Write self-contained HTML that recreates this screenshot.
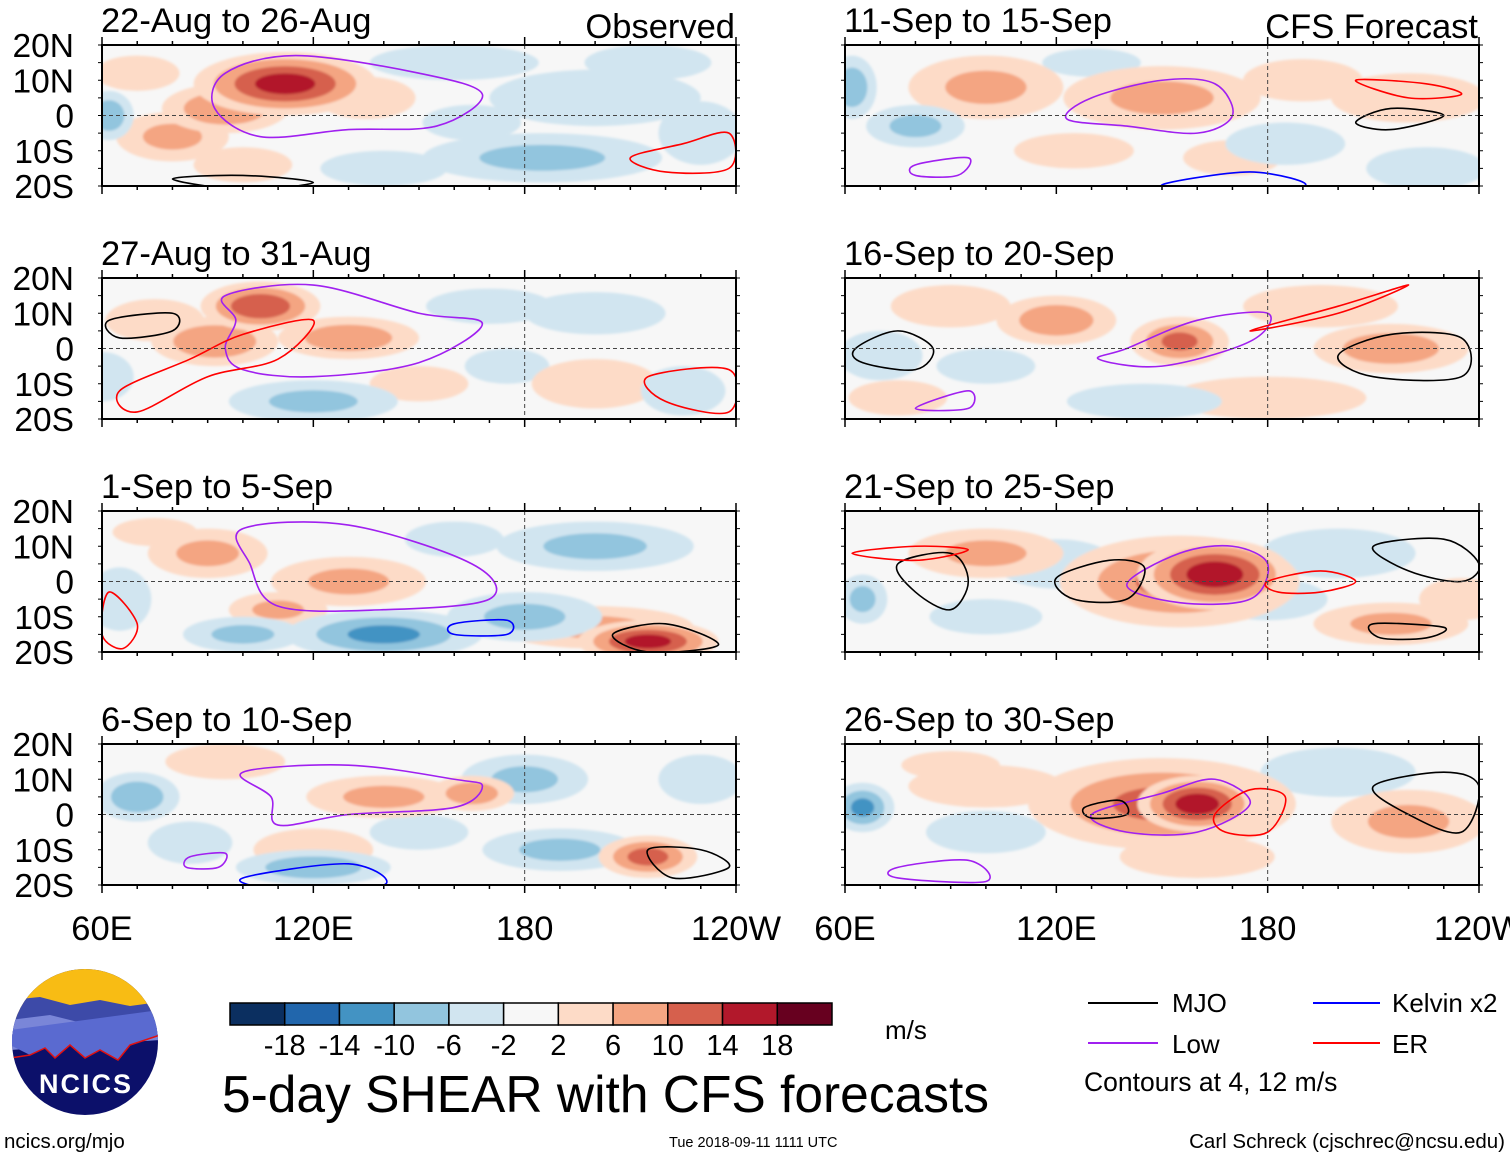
<!DOCTYPE html>
<html><head><meta charset="utf-8"><style>
html,body{margin:0;padding:0;background:#fff}
svg{display:block;font-family:"Liberation Sans",sans-serif}
</style></head><body>
<svg id="fig" width="1510" height="1158" viewBox="0 0 1510 1158" xmlns="http://www.w3.org/2000/svg">
<defs><filter id="soft" x="-10%" y="-10%" width="120%" height="120%"><feGaussianBlur stdDeviation="1.2"/></filter></defs>
<g id="panels"></g>
<g id="bottom">
 <g>
  <clipPath id="lc"><circle cx="85" cy="1042" r="73"/></clipPath>
  <g clip-path="url(#lc)">
   <rect x="10" y="968" width="150" height="150" fill="#0c106a"/>
   <rect x="10" y="968" width="150" height="50" fill="#f8bc14"/>
   <path d="M10 1000 L40 997 L70 1005 L100 1000 L130 1006 L160 1002 L160 1035 L10 1040Z" fill="#3d4aa8"/>
   <path d="M10 1020 L50 1015 L90 1025 L130 1018 L160 1020 L160 1040 L10 1050Z" fill="#7a86d8"/>
   <path d="M10 1045 L30 1055 L45 1048 L55 1058 L70 1045 L85 1058 L100 1050 L118 1060 L130 1045 L160 1035 L160 1010 L10 1030Z" fill="#5a6ad0"/>
   <path d="M10 1058 L30 1055 L45 1048 L55 1058 L70 1045 L85 1058 L100 1050 L118 1060 L130 1045 L160 1035" fill="none" stroke="#e01010" stroke-width="1.5"/>
  </g>
  <text x="86" y="1093" font-size="27" font-weight="bold" fill="#fff" text-anchor="middle" letter-spacing="2">NCICS</text>
 </g>
 <text x="4" y="1148" font-size="20.5">ncics.org/mjo</text>
 <g id="cbar"></g>
 <text x="885" y="1039" font-size="26">m/s</text>
 <text x="222" y="1112" font-size="51.5">5-day SHEAR with CFS forecasts</text>
 <text x="669" y="1147" font-size="14.5">Tue 2018-09-11 1111 UTC</text>
 <text x="1505" y="1148" font-size="20.5" text-anchor="end">Carl Schreck (cjschrec@ncsu.edu)</text>
 <g font-size="26">
  <line x1="1088" y1="1003" x2="1158" y2="1003" stroke="#000" stroke-width="2"/><text x="1172" y="1012">MJO</text>
  <line x1="1088" y1="1043" x2="1158" y2="1043" stroke="#a020f0" stroke-width="2"/><text x="1172" y="1053">Low</text>
  <line x1="1313" y1="1003" x2="1380" y2="1003" stroke="#0000ff" stroke-width="2"/><text x="1392" y="1012">Kelvin x2</text>
  <line x1="1313" y1="1043" x2="1380" y2="1043" stroke="#ff0000" stroke-width="2"/><text x="1392" y="1053">ER</text>
  <text x="1084" y="1091" font-size="26.5">Contours at 4, 12 m/s</text>
 </g>
</g>
</svg>
<script>
const panelTitles=["22-Aug to 26-Aug","27-Aug to 31-Aug","1-Sep to 5-Sep","6-Sep to 10-Sep","11-Sep to 15-Sep","16-Sep to 20-Sep","21-Sep to 25-Sep","26-Sep to 30-Sep"];
const latTicks=[20,10,0,-10,-20];
const latLabels=["20N","10N","0","10S","20S"];
const lonTicks=[60,120,180,240];
const lonLabels=["60E","120E","180","120W"];
const cbarLevels=[-18,-14,-10,-6,-2,2,6,10,14,18];
const cbarColors=["#0b2f60","#2166ac","#4393c3","#92c5de","#d1e5f0","#f7f7f7","#fddbc7","#f4a582","#d6604d","#b2182b","#67001f"];
// blobs: [lon, lat, value m/s, lon-extent, lat-extent]
const blobs0=[[112,9,16,26,9],[95,2,10,18,7],[80,-6,7,16,7],[70,12,5,12,5],[135,5,5,14,6],[100,-14,5,14,5],[62,0,-9,7,7],[185,-12,-7,34,7],[200,5,-5,30,8],[230,-5,-5,12,9],[160,15,-5,24,5],[140,-15,-5,18,5],[165,-2,-4,14,5],[215,15,-4,18,5]];
const blobs1=[[105,12,14,17,7],[92,2,10,18,7],[130,3,9,20,6],[75,8,5,14,6],[200,-10,5,18,7],[150,-10,4,14,5],[120,-15,-7,24,6],[225,-12,-5,12,7],[170,12,-5,18,5],[60,-8,-5,9,7],[200,10,-4,20,6],[175,-5,-4,12,5]];
const blobs2=[[215,-17,16,20,6],[200,-13,7,28,6],[90,8,7,17,7],[130,0,7,22,7],[110,-8,7,14,5],[75,14,4,12,4],[140,-15,-11,28,7],[180,-10,-7,22,7],[100,-15,-7,17,5],[200,10,-7,28,7],[65,-5,-5,9,9],[160,12,-4,14,5]];
const blobs3=[[95,15,5,17,5],[140,5,7,22,6],[165,6,9,12,5],[215,-12,12,14,6],[120,-10,5,17,6],[70,5,-9,12,7],[120,-15,-9,22,5],[180,10,-7,18,7],[190,-10,-7,22,6],[230,10,-5,12,7],[85,-8,-5,12,6],[150,-5,-4,14,5]];
const blobs4=[[100,8,7,22,9],[150,5,7,28,9],[220,5,5,22,7],[190,10,5,17,6],[125,-10,5,17,5],[170,-12,4,14,5],[62,8,-9,7,9],[80,-3,-7,14,6],[185,-8,-5,17,6],[225,-15,-5,17,6],[130,15,-4,14,4]];
const blobs5=[[155,2,11,14,7],[120,8,9,17,7],[215,0,9,22,7],[90,12,5,17,6],[180,-14,5,28,6],[195,12,5,22,6],[75,-14,4,14,5],[70,-2,-5,12,7],[145,-15,-5,22,5],[100,-5,-4,14,5]];
const blobs6=[[165,2,17,22,10],[155,0,11,34,13],[100,8,7,22,7],[215,-12,7,22,6],[235,-5,5,12,6],[120,5,-5,17,7],[200,8,-5,22,7],[180,-5,-5,17,6],[65,-5,-7,7,7],[100,-10,-4,16,5]];
const blobs7=[[160,3,17,17,8],[150,3,11,38,13],[220,-2,7,22,9],[100,8,5,22,6],[160,-12,5,22,6],[65,2,-11,9,7],[100,-5,-5,17,6],[200,12,-5,22,7],[90,14,4,14,4]];
// contours: [type, [[lon,lat],...]]
const cont0=[["low",[[95,12],[115,17],[150,12],[168,6],[155,-3],[130,-4],[105,-6],[92,2]]],["er",[[210,-12],[225,-8],[238,-5],[238,-15],[220,-16]]],["mjo",[[80,-18],[100,-17],[120,-19],[100,-21]]]];
const cont1=[["low",[[95,15],[120,18],[150,10],[168,7],[150,-4],[120,-8],[100,-6],[95,0],[98,8]]],["er",[[65,-12],[85,-3],[100,4],[120,8],[110,-3],[90,-8],[70,-18]]],["mjo",[[62,8],[80,10],[80,5],[65,3]]],["er",[[215,-8],[238,-6],[238,-18],[220,-15]]]];
const cont2=[["low",[[100,15],[130,16],[165,5],[170,-5],[140,-8],[110,-7],[102,5]]],["kel",[[160,-12],[175,-11],[175,-15],[160,-15]]],["mjo",[[205,-15],[220,-12],[235,-18],[215,-20]]],["er",[[62,-3],[70,-12],[66,-19],[60,-15]]]];
const cont3=[["low",[[100,12],[130,14],[160,10],[168,8],[160,2],[130,0],[110,-3],[108,5]]],["low",[[85,-12],[95,-11],[93,-15],[84,-15]]],["mjo",[[215,-10],[230,-10],[238,-15],[222,-18]]],["kel",[[100,-18],[130,-14],[140,-20],[110,-21]]]];
const cont4=[["low",[[130,5],[150,10],[165,9],[170,0],[160,-5],[140,-3],[123,-1]]],["mjo",[[205,-2],[215,2],[230,0],[215,-4]]],["er",[[205,10],[225,9],[235,6],[220,5]]],["low",[[80,-14],[95,-12],[92,-17],[80,-17]]],["kel",[[150,-20],[175,-16],[190,-20]]]];
const cont5=[["low",[[140,0],[160,8],[180,10],[175,2],[150,-5],[132,-3]]],["mjo",[[63,0],[75,5],[85,0],[80,-6],[65,-4]]],["mjo",[[200,-2],[215,4],[235,3],[235,-8],[210,-8]]],["er",[[175,5],[200,10],[220,18],[200,12]]],["low",[[80,-17],[95,-12],[95,-17]]]];
const cont6=[["low",[[140,-1],[155,8],[170,10],[180,5],[175,-5],[155,-6]]],["er",[[180,0],[195,3],[205,0],[195,-3],[183,-3]]],["mjo",[[120,1],[135,6],[145,4],[140,-5],[125,-5]]],["mjo",[[210,10],[230,12],[240,5],[235,0],[220,3]]],["mjo",[[75,5],[90,8],[95,0],[90,-8],[80,-3]]],["er",[[62,8],[80,10],[95,9],[80,6]]],["mjo",[[210,-12],[230,-13],[225,-16],[212,-16]]]];
const cont7=[["low",[[130,0],[150,6],[165,10],[175,3],[160,-5],[140,-5]]],["er",[[165,0],[175,7],[185,5],[180,-5],[168,-5]]],["mjo",[[210,8],[230,12],[240,8],[235,-5],[220,0]]],["mjo",[[128,2],[138,4],[140,0],[130,-1]]],["low",[[75,-15],[95,-13],[100,-19],[75,-18]]]];
const allBlobs=[blobs0,blobs1,blobs2,blobs3,blobs4,blobs5,blobs6,blobs7];
const allCont=[cont0,cont1,cont2,cont3,cont4,cont5,cont6,cont7];
const NS="http://www.w3.org/2000/svg";
function mk(tag,attrs,parent){const e=document.createElementNS(NS,tag);for(const k in attrs)e.setAttribute(k,attrs[k]);parent.appendChild(e);return e;}
const PW=634,PH=141;
const origins=[[102,45],[102,278],[102,511],[102,744],[845,45],[845,278],[845,511],[845,744]];
function colorFor(v){let i=0;while(i<cbarLevels.length&&v>cbarLevels[i])i++;return cbarColors[i];}
function smooth(pts){let d="";const n=pts.length;for(let i=0;i<n;i++){const p0=pts[(i-1+n)%n],p1=pts[i],p2=pts[(i+1)%n],p3=pts[(i+2)%n];if(i===0)d+="M"+p1[0]+" "+p1[1];d+=" C"+(p1[0]+(p2[0]-p0[0])/6)+" "+(p1[1]+(p2[1]-p0[1])/6)+" "+(p2[0]-(p3[0]-p1[0])/6)+" "+(p2[1]-(p3[1]-p1[1])/6)+" "+p2[0]+" "+p2[1];}return d+"Z";}
const colMap={mjo:"#000",low:"#a020f0",kel:"#0000ff",er:"#ff0000"};
const root=document.getElementById("panels");
panelTitles.forEach((t,pi)=>{
 const [x0,y0]=origins[pi];
 const px=lon=>x0+(lon-60)/180*PW, py=lat=>y0+(20-lat)/40*PH;
 const g=mk("g",{},root);
 
 
 const cid="clip"+pi;
 const cp=mk("clipPath",{id:cid},g);mk("rect",{x:x0,y:y0,width:PW,height:PH},cp);
 const field=mk("g",{"clip-path":"url(#"+cid+")"},g);
 mk("rect",{x:x0,y:y0,width:PW,height:PH,fill:"#f7f7f7"},field);
 const fg=mk("g",{filter:"url(#soft)"},field);
 const sorted=allBlobs[pi].slice().sort((a,b)=>Math.abs(a[2])-Math.abs(b[2]));
 sorted.forEach(b=>{
  const [lon,lat,v,rl,ra]=b;const av=Math.abs(v),sg=v>0?1:-1;
  [2,6,10,14,18].forEach(th=>{if(th<av){const s=1-(th-2)/(av+1)*0.95;
   const e=mk("ellipse",{cx:px(lon),cy:py(lat),rx:rl*s/180*PW,ry:ra*s/40*PH,fill:colorFor(sg*(th+1))},fg);
   
   }});
 });
 allCont[pi].forEach(c=>{
  const p=mk("path",{d:smooth(c[1].map(q=>[px(q[0]),py(q[1])])),fill:"none",stroke:colMap[c[0]],"stroke-width":1.6},field);
  
  
 });
 mk("line",{x1:x0,y1:py(0),x2:x0+PW,y2:py(0),stroke:"#444","stroke-dasharray":"4 3","stroke-width":1},g);
 mk("line",{x1:px(180),y1:y0,x2:px(180),y2:y0+PH,stroke:"#444","stroke-dasharray":"4 3","stroke-width":1},g);
 mk("rect",{x:x0,y:y0,width:PW,height:PH,fill:"none",stroke:"#000","stroke-width":2},g);
 for(let lon=60;lon<=240;lon+=10){const L=lon%60===0?8:4;
  mk("line",{x1:px(lon),y1:y0,x2:px(lon),y2:y0-L,stroke:"#000","stroke-width":1.5},g);
  mk("line",{x1:px(lon),y1:y0+PH,x2:px(lon),y2:y0+PH+L,stroke:"#000","stroke-width":1.5},g);}
 for(let lat=-20;lat<=20;lat+=5){mk("line",{x1:x0,y1:py(lat),x2:x0-4,y2:py(lat),stroke:"#000"},g);mk("line",{x1:x0+PW,y1:py(lat),x2:x0+PW+4,y2:py(lat),stroke:"#000"},g);}
 const tt=mk("text",{x:x0-1,y:y0-13,"font-size":34.5},g);tt.textContent=t;
 
 
 if(pi<4){latTicks.forEach((la,i)=>{const tx=mk("text",{x:74,y:py(la)+12,"font-size":33.5,"text-anchor":"end"},g);tx.textContent=latLabels[i];
  
  });}
 if(pi===0||pi===4){const o=mk("text",{x:x0+PW-1,y:y0-7,"font-size":34.5,"text-anchor":"end"},g);o.textContent=pi===0?"Observed":"CFS Forecast";
  
  }
 if(pi===3||pi===7){lonTicks.forEach((lo,i)=>{const tx=mk("text",{x:px(lo),y:y0+PH+55,"font-size":34.5,"text-anchor":"middle"},g);tx.textContent=lonLabels[i];
  
  });}
});
const cb=document.getElementById("cbar");const bw=602/cbarColors.length;
cbarColors.forEach((c,i)=>{const r=mk("rect",{x:230+i*bw,y:1003,width:bw,height:22,fill:c,stroke:"#000","stroke-width":1.5},cb);
 
 });
cbarLevels.forEach((l,i)=>{const t=mk("text",{x:230+(i+1)*bw,y:1055,"font-size":29,"text-anchor":"middle"},cb);t.textContent=l;
 
 });
</script>
</body></html>
